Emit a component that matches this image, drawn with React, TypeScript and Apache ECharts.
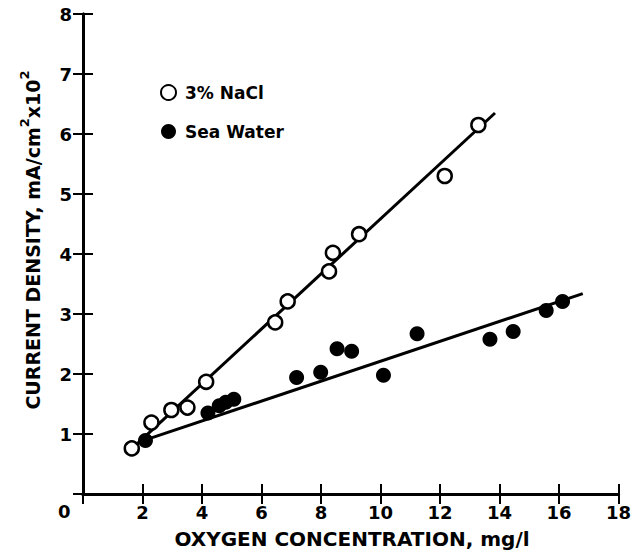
import React, { useEffect, useRef } from 'react';
import * as echarts from 'echarts';

// Data
const naclPoints: number[][] = [
  [1.64, 0.76], [2.3, 1.19], [2.97, 1.4], [3.51, 1.44], [4.14, 1.87],
  [6.46, 2.86], [6.88, 3.21], [8.27, 3.71], [8.4, 4.02], [9.28, 4.33],
  [12.16, 5.3], [13.29, 6.15],
];
const seaPoints: number[][] = [
  [2.1, 0.89], [4.2, 1.35], [4.58, 1.47], [4.8, 1.53], [5.07, 1.58],
  [7.18, 1.94], [7.99, 2.03], [8.54, 2.42], [9.03, 2.38], [10.1, 1.98],
  [11.23, 2.67], [13.68, 2.58], [14.46, 2.71], [15.57, 3.06], [16.12, 3.21],
];
const naclFit: number[][] = [[1.7, 0.78], [13.85, 6.35]];
const seaFit: number[][] = [[2.15, 0.91], [16.8, 3.34]];

const xMin = 0, xMax = 18, xStep = 2;
const yMin = 0, yMax = 8, yStep = 1;

const seriesNames = ['3% NaCl', 'Sea Water'];
const xTitle = 'OXYGEN CONCENTRATION, mg/l';
const yTitleParts = ['CURRENT DENSITY, mA/cm', '2', 'x10', '2'];
const originLabel = '0';

const FONT = 'DejaVu Sans';

export default function App() {
  const ref = useRef<HTMLDivElement>(null);
  useEffect(() => {
    if (!ref.current) return;
    const chart = echarts.init(ref.current, undefined, { renderer: 'svg' });
    const axisLine = { show: true, lineStyle: { color: '#000', width: 3 } };
    const tick = { show: true, inside: true, length: 10, lineStyle: { color: '#000', width: 2 } };
    const label = { color: '#000', fontFamily: FONT, fontWeight: 'bold' as const, fontSize: 18 };
    chart.setOption({
      animation: false,
      backgroundColor: '#fff',
      grid: { left: 83, right: 12, top: 14, bottom: 65 },
      xAxis: [
        {
          type: 'value', min: xMin, max: xMax, interval: xStep, position: 'bottom',
          axisLine, axisTick: tick, splitLine: { show: false },
          axisLabel: { ...label, margin: 9, formatter: (v: number) => (v === 0 ? '' : String(v)) },
        },
        {
          type: 'value', min: xMin, max: xMax, interval: xStep, position: 'top',
          axisLine, axisTick: tick, splitLine: { show: false }, axisLabel: { show: false },
        },
      ],
      yAxis: [
        {
          type: 'value', min: yMin, max: yMax, interval: yStep, position: 'left',
          axisLine, axisTick: tick, splitLine: { show: false },
          axisLabel: { ...label, margin: 11, formatter: (v: number) => (v === 0 ? '' : String(v)) },
        },
        {
          type: 'value', min: yMin, max: yMax, interval: yStep, position: 'right',
          axisLine, axisTick: tick, splitLine: { show: false }, axisLabel: { show: false },
        },
      ],
      legend: {
        data: seriesNames,
        orient: 'vertical',
        left: 155,
        top: 79,
        itemWidth: 15,
        itemHeight: 15,
        itemGap: 22,
        textStyle: { ...label, fontSize: 17, padding: [0, 0, 0, 4] },
        selectedMode: false,
      },
      series: [
        {
          type: 'line', data: naclFit, symbol: 'none', silent: true,
          lineStyle: { color: '#000', width: 3 }, z: 1,
        },
        {
          type: 'line', data: seaFit, symbol: 'none', silent: true,
          lineStyle: { color: '#000', width: 3 }, z: 1,
        },
        {
          name: seriesNames[0], type: 'scatter', data: naclPoints, symbol: 'circle', symbolSize: 14,
          itemStyle: { color: '#fff', borderColor: '#000', borderWidth: 2.5, opacity: 1 }, z: 3,
        },
        {
          name: seriesNames[1], type: 'scatter', data: seaPoints, symbol: 'circle', symbolSize: 15,
          itemStyle: { color: '#000', opacity: 1 }, z: 3,
        },
      ],
      graphic: [
        {
          type: 'text', left: 58, top: 502,
          style: { text: originLabel, fill: '#000', font: `bold 18px "${FONT}"` },
        },
        {
          type: 'text', x: 352, y: 539,
          style: { text: xTitle, fill: '#000', font: `bold 20px "${FONT}"`, align: 'center', verticalAlign: 'middle' },
        },
        {
          type: 'text', x: 30, y: 240, rotation: Math.PI / 2,
          style: {
            text: `{a|${yTitleParts[0]}}{s|${yTitleParts[1]}}{a|${yTitleParts[2]}}{s|${yTitleParts[3]}}`,
            align: 'center', verticalAlign: 'middle',
            rich: {
              a: { fill: '#000', fontFamily: FONT, fontWeight: 'bold', fontSize: 19, verticalAlign: 'bottom', lineHeight: 24 },
              s: { fill: '#000', fontFamily: FONT, fontWeight: 'bold', fontSize: 13, verticalAlign: 'top', lineHeight: 24, padding: [0, 0, 10, 0] },
            },
          },
        },
      ],
    });
    return () => chart.dispose();
  }, []);
  return <div ref={ref} style={{ position: 'fixed', left: 0, top: 0, width: 634, height: 559 }} />;
}
